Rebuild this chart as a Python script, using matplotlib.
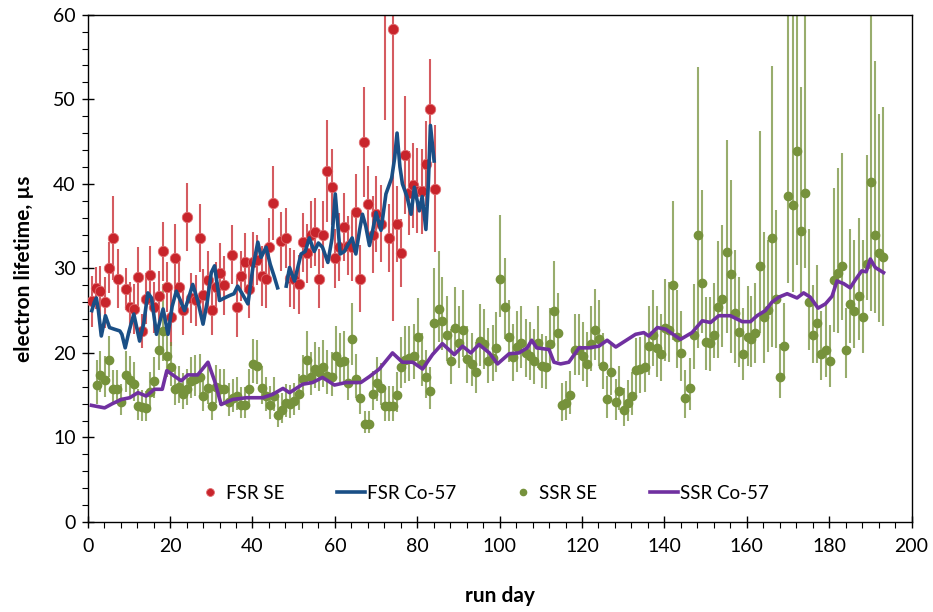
import numpy as np
import matplotlib
matplotlib.use("Agg")
import matplotlib.pyplot as plt
from matplotlib.ticker import MultipleLocator

plt.rcParams['font.family'] = ['Lato', 'DejaVu Sans']

# FSR SE (red points), symmetric errors
fsr_day = [1.1, 2.1, 3.1, 4.2, 5.2, 6.1, 7.3, 9.2, 10.2, 11.2, 12.2, 13.2, 14.2, 15.2, 16.2, 17.2,
           18.2, 19.2, 20.2, 21.2, 22.2, 23.2, 24.1, 25.1, 26.2, 27.2, 28.1, 29.2, 30.2, 31.2, 32.2,
           33.1, 35.1, 36.2, 37.2, 38.1, 39.1, 40.1, 41.0, 42.2, 43.2, 44.1, 45.1, 47.0, 48.2, 49.1,
           50.1, 51.2, 52.2, 53.2, 54.2, 55.1, 56.1, 57.2, 58.2, 59.2, 60.1, 61.1, 62.2, 63.2, 64.2,
           65.1, 66.1, 67.1, 68.0, 69.2, 70.1, 71.1, 72.2, 73.2, 74.2, 75.2, 76.1, 77.1, 78.1, 79.0,
           80.0, 81.1, 82.1, 83.1, 84.2]
fsr_val = [26.1, 27.7, 27.3, 26.0, 30.1, 33.6, 28.8, 27.6, 25.4, 25.2, 29.0, 22.6, 26.4, 29.2, 25.4, 26.7,
           32.0, 27.8, 24.3, 31.2, 27.8, 25.1, 36.1, 26.5, 26.2, 33.6, 26.9, 28.6, 25.1, 27.8, 29.5,
           28.0, 31.6, 25.4, 29.1, 30.7, 27.6, 30.8, 31.0, 29.1, 28.8, 32.5, 37.7, 33.2, 33.6, 28.9,
           28.7, 28.1, 33.1, 31.8, 34.0, 34.3, 28.8, 34.0, 41.5, 39.6, 31.2, 32.5, 34.9, 32.7, 32.5,
           36.7, 28.8, 44.9, 37.6, 34.0, 36.4, 35.3, 62.0, 33.6, 58.3, 35.2, 31.8, 43.4, 38.9, 39.8,
           39.2, 39.1, 42.4, 48.8, 39.4]
fsr_err = [3.0, 2.5, 3.0, 3.0, 3.0, 5.0, 3.5, 2.5, 3.0, 3.0, 3.5, 2.0, 3.0, 3.5, 3.0, 3.0,
           3.5, 3.0, 3.5, 4.0, 3.0, 3.0, 4.0, 3.0, 3.0, 4.0, 3.0, 3.5, 3.0, 3.0, 3.5,
           3.5, 3.5, 3.5, 3.0, 3.5, 3.5, 3.5, 3.0, 3.5, 3.5, 3.5, 4.4, 3.5, 3.5, 3.5,
           3.5, 3.5, 3.5, 3.5, 4.0, 4.0, 3.5, 4.0, 6.0, 4.5, 3.5, 4.0, 4.0, 3.5, 4.0,
           4.5, 4.0, 6.5, 4.5, 4.5, 4.5, 4.5, 14.4, 4.0, 34.5, 4.5, 4.0, 7.0, 5.0, 5.0,
           5.0, 5.0, 5.0, 6.0, 7.5]

# FSR Co-57 (blue line), nan = gap
fco_day = [1.0, 1.6, 2.1, 2.6, 3.3, 4.3, 5.3, 6.5, 7.8, 8.3, 9.1, 10.0, 11.2, 12.6, 13.6, 14.6, 15.5,
           16.7, 18.3, 19.5, 20.5, 21.5, 22.5, 23.5, 24.5, 25.5, 26.7, 28.0, 29.0, 30.0, 30.8, 32.0,
           33.2, 34.5, 35.5, 36.4, 37.5, 38.9, 40.1, 41.3, 42.1, 43.3, 44.3, 45.3, 46.1, 47.0,
           48.2, 49.0, 50.2, 51.8, 52.8, 53.8, 55.0, 56.0, 57.0, 58.3, 59.3, 60.1, 61.3, 62.3, 63.2,
           64.2, 65.1, 66.0, 66.7, 67.5, 68.4, 69.2, 70.0, 71.2, 72.4, 73.8, 74.5, 75.1, 75.8, 76.4,
           77.5, 78.5, 79.3, 80.5, 81.2, 82.1, 82.7, 83.2, 84.1]
fco_val = [25.0, 26.0, 26.5, 25.0, 22.0, 24.4, 23.0, 22.8, 22.6, 22.2, 20.6, 22.5, 24.6, 21.4, 23.5, 27.1, 26.5,
           22.2, 25.2, 22.2, 25.5, 27.3, 26.2, 25.0, 26.5, 28.1, 26.2, 23.4, 26.0, 29.5, 30.3, 26.2,
           26.5, 26.8, 27.0, 27.9, 27.0, 25.8, 30.1, 33.1, 31.3, 32.5, 30.5, 29.0, 27.7, np.nan,
           27.9, 30.1, 28.5, 31.7, 32.0, 33.6, 32.0, 33.0, 32.5, 30.7, 33.5, 38.8, 31.7, 32.0, 32.8,
           33.6, 31.7, 34.5, 36.4, 35.0, 32.7, 34.5, 36.6, 34.5, 38.8, 40.7, 43.0, 46.0, 42.0, 40.0,
           38.5, 36.4, 39.6, 36.8, 38.5, 34.6, 40.0, 46.9, 42.7]

# SSR SE (green points), asymmetric errors
ssr_day = [2.3, 3.1, 4.1, 5.2, 6.1, 7.1, 8.2, 9.2, 10.2, 11.2, 12.2, 13.3, 14.2, 15.2, 16.2, 17.2,
           18.3, 19.2, 20.2, 21.3, 22.2, 23.2, 24.2, 25.1, 26.1, 27.2, 28.1, 29.1, 30.2, 31.2, 32.2,
           33.2, 34.3, 35.2, 36.2, 37.2, 38.1, 39.1, 40.1, 41.2, 42.2, 43.2, 44.3, 45.3, 46.2, 47.2,
           48.2, 49.2, 50.2, 51.2, 52.2, 53.2, 54.2, 55.3, 56.2, 57.2, 58.2, 59.2, 60.3, 61.3, 62.2,
           63.2, 64.2, 65.1, 66.2, 67.2, 68.2, 69.2, 70.2, 71.2, 72.2, 73.2, 74.2, 75.2, 76.1, 77.1,
           78.1, 79.1, 80.2, 81.1, 82.1, 83.2, 84.1, 85.2, 86.1, 87.2, 88.2, 89.1, 90.2, 91.2, 92.2,
           93.3, 94.2, 95.2, 96.2, 97.2, 98.3, 99.2, 100.1, 101.3, 102.2, 103.3, 104.3, 105.3, 106.3, 107.3,
           108.4, 109.3, 110.3, 111.2, 112.2, 113.2, 114.2, 115.2, 116.2, 117.2, 118.2, 119.3, 120.2, 121.3, 122.3,
           123.2, 124.1, 125.1, 126.1, 127.1, 128.2, 129.1, 130.2, 131.2, 132.2, 133.2, 134.2, 135.2, 136.2, 137.2,
           138.3, 139.2, 140.2, 141.2, 142.1, 143.1, 144.1, 145.1, 146.1, 147.2, 148.1, 149.1, 150.1, 151.0, 152.1,
           153.0, 154.0, 155.2, 156.1, 157.1, 158.1, 159.0, 160.2, 161.1, 162.1, 163.1, 164.1, 165.1, 166.1, 167.1,
           168.1, 169.1, 170.1, 171.2, 172.1, 173.1, 174.1, 175.1, 176.1, 177.1, 178.1, 179.2, 180.1, 181.1, 182.1,
           183.1, 184.1, 185.1, 186.1, 187.2, 188.1, 189.1, 190.1, 191.1, 192.1, 193.1]
ssr_val = [16.2, 17.4, 16.8, 19.2, 15.7, 15.7, 14.2, 17.4, 16.8, 16.3, 13.7, 13.6, 13.5, 15.4, 16.7, 20.4,
           22.6, 19.6, 18.3, 15.7, 16.0, 15.2, 15.7, 16.7, 16.9, 17.1, 14.9, 15.9, 13.7, 16.0, 15.7,
           15.7, 14.2, 14.7, 14.9, 13.9, 13.9, 15.7, 18.7, 18.5, 15.9, 14.9, 13.9, 14.9, 12.7, 13.3,
           14.1, 14.0, 14.3, 15.1, 16.9, 19.2, 17.1, 18.1, 17.7, 18.3, 17.3, 17.1, 19.6, 18.9, 19.1,
           16.5, 21.6, 16.9, 14.7, 11.6, 11.6, 15.2, 16.5, 15.9, 13.7, 13.7, 13.7, 15.0, 18.3, 19.2,
           19.4, 19.6, 21.9, 18.7, 17.1, 15.5, 23.5, 25.2, 23.8, 22.1, 19.0, 23.0, 21.2, 22.7, 19.3,
           18.7, 17.8, 21.4, 21.0, 19.1, 19.4, 20.6, 28.8, 25.4, 21.9, 19.5, 20.7, 21.2, 20.0, 19.6,
           19.0, 21.2, 18.5, 18.3, 21.0, 24.9, 22.3, 13.9, 14.1, 15.0, 20.4, 20.4, 19.6, 18.7, 21.1,
           22.7, 21.7, 18.5, 14.5, 17.7, 14.2, 15.5, 13.3, 14.1, 14.9, 18.0, 18.1, 18.3, 20.8, 22.1,
           20.6, 19.9, 22.9, 22.7, 28.0, 21.9, 20.0, 14.7, 15.8, 22.1, 34.0, 28.3, 21.3, 21.2, 22.1,
           25.4, 26.4, 31.9, 29.3, 24.7, 22.5, 19.9, 21.9, 21.7, 22.3, 30.3, 24.3, 25.1, 33.6, 26.4,
           17.2, 20.8, 38.6, 37.5, 43.9, 34.4, 38.9, 26.0, 22.1, 23.5, 19.9, 20.3, 19.0, 28.6, 29.5,
           30.3, 20.4, 25.8, 24.9, 26.7, 24.3, 30.5, 40.2, 34.0, 31.8, 31.4]
ssr_lo = [2.2, 2.0, 2.0, 2.0, 1.7, 1.7, 1.6, 2.0, 2.0, 2.0, 1.6, 1.6, 1.6, 1.8, 2.0, 2.4,
          3.5, 2.4, 2.2, 1.8, 1.9, 1.8, 1.8, 2.0, 2.0, 2.0, 1.8, 1.9, 1.6, 1.9, 1.8,
          1.8, 1.7, 1.7, 1.7, 1.6, 1.6, 1.8, 2.2, 2.2, 1.9, 1.8, 1.7, 1.8, 1.5, 1.6,
          1.7, 1.7, 1.7, 1.8, 2.0, 2.4, 2.1, 2.3, 2.2, 2.3, 2.2, 2.2, 2.6, 2.4, 2.5,
          2.1, 3.0, 2.2, 1.9, 1.1, 1.1, 2.0, 2.2, 2.1, 1.8, 1.8, 1.8, 2.0, 2.5, 2.8,
          2.7, 2.7, 3.2, 2.6, 2.4, 2.1, 3.6, 3.9, 3.4, 3.1, 2.7, 3.3, 3.0, 3.2, 2.8,
          2.6, 2.5, 3.0, 2.9, 2.7, 2.7, 2.9, 4.6, 3.8, 3.0, 2.8, 2.9, 3.0, 2.8, 2.8,
          2.7, 3.0, 2.6, 2.6, 3.0, 3.9, 3.3, 2.0, 2.0, 2.2, 3.0, 3.0, 2.9, 2.7, 3.2,
          3.5, 3.3, 2.8, 2.2, 2.7, 2.1, 2.3, 2.0, 2.1, 2.2, 2.8, 2.8, 2.9, 3.4, 3.6,
          3.4, 3.2, 3.8, 3.8, 6.5, 3.7, 3.3, 2.4, 2.6, 4.0, 13.4, 6.0, 3.3, 3.3, 2.7,
          6.0, 5.7, 9.6, 9.3, 5.9, 4.2, 3.1, 3.5, 3.4, 3.5, 8.0, 5.5, 5.0, 12.9, 5.8,
          2.5, 3.8, 10.3, 10.3, 13.5, 7.4, 8.8, 5.6, 3.3, 4.7, 3.1, 3.1, 3.0, 6.1, 7.1,
          6.4, 3.4, 4.6, 4.3, 5.2, 4.3, 4.2, 15.3, 9.3, 8.1, 8.2]
ssr_hi = [3.0, 2.8, 2.8, 2.8, 2.3, 2.3, 2.1, 2.8, 2.8, 2.6, 2.0, 2.0, 2.0, 2.4, 2.8, 3.2,
          5.5, 3.2, 3.0, 2.4, 2.5, 2.4, 2.4, 2.8, 2.8, 2.8, 2.3, 2.6, 2.0, 2.6, 2.4,
          2.4, 2.2, 2.2, 2.3, 2.1, 2.1, 2.4, 3.0, 3.0, 2.5, 2.3, 2.2, 2.3, 1.9, 2.0,
          2.2, 2.2, 2.2, 2.4, 2.8, 3.4, 3.0, 3.2, 3.0, 3.2, 3.0, 3.0, 3.6, 3.4, 3.5,
          2.9, 4.3, 3.0, 2.5, 1.5, 1.5, 2.7, 3.0, 2.9, 2.4, 2.4, 2.4, 2.8, 3.6, 4.0,
          3.8, 3.8, 4.6, 3.6, 3.3, 2.8, 6.5, 6.8, 5.2, 4.6, 3.8, 4.8, 4.3, 4.7, 3.9,
          3.7, 3.5, 4.4, 4.2, 3.8, 3.9, 4.2, 7.5, 5.8, 4.4, 3.9, 4.2, 4.4, 4.0, 4.0,
          3.8, 4.4, 3.7, 3.7, 4.3, 6.0, 4.8, 2.6, 2.6, 2.9, 4.2, 4.2, 4.0, 3.8, 4.4,
          4.9, 4.6, 3.8, 2.8, 3.6, 2.7, 3.0, 2.5, 2.7, 2.9, 3.8, 3.8, 4.0, 4.8, 5.3,
          5.0, 4.7, 5.8, 5.7, 10.0, 5.5, 5.0, 3.3, 3.6, 6.0, 19.8, 11.0, 5.3, 5.4, 6.2,
          7.8, 8.7, 13.3, 11.2, 7.5, 6.5, 5.4, 6.0, 5.0, 6.0, 16.0, 10.0, 8.3, 20.3, 10.5,
          3.8, 5.1, 30.0, 30.0, 30.0, 17.1, 30.0, 8.6, 5.9, 6.9, 5.0, 5.6, 4.3, 10.9, 12.4,
          13.4, 4.9, 8.8, 8.5, 9.3, 9.1, 12.9, 30.0, 20.5, 16.5, 17.7]

# SSR Co-57 (purple line)
sco_day = [0.9, 4.1, 6.0, 8.2, 10.2, 12.2, 14.2, 16.2, 18.1, 19.2, 21.5, 22.7, 24.3, 26.7, 29.2, 30.8,
           32.4, 35.2, 38.5, 42.5, 44.9, 47.4, 49.0, 52.2, 54.6, 57.0, 59.9, 62.7, 66.3, 68.4, 70.8,
           74.0, 76.4, 78.9, 81.3, 83.7, 86.1, 89.0, 91.0, 93.0, 95.0, 97.5, 99.5, 102.3, 104.7, 106.7,
           107.8, 109.0, 112.0, 113.2, 114.8, 116.8, 119.3, 121.7, 124.1, 126.1, 128.2, 129.8, 133.0, 135.0,
           136.2, 138.3, 140.3, 143.9, 146.7, 149.2, 151.2, 153.2, 156.0, 158.9, 160.9, 162.5, 164.5, 166.1,
           167.8, 169.8, 172.2, 173.8, 175.4, 177.3, 179.1, 180.7, 181.9, 183.5, 185.1, 186.3, 187.9, 189.0,
           190.0, 191.2, 193.2]
sco_val = [13.8, 13.5, 14.0, 14.5, 14.7, 15.3, 14.9, 15.7, 15.7, 17.9, 17.1, 16.7, 17.4, 17.4, 18.9, 16.7,
           13.9, 14.5, 14.7, 14.7, 15.1, 15.8, 15.3, 16.3, 16.5, 17.1, 16.2, 16.5, 16.5, 17.2, 18.1,
           20.0, 18.9, 18.9, 18.1, 19.8, 21.1, 19.8, 20.8, 20.0, 21.0, 20.0, 18.7, 19.9, 20.0, 20.6,
           21.5, 20.6, 20.4, 18.9, 18.7, 18.9, 20.6, 20.6, 20.8, 21.5, 20.7, 21.2, 22.2, 22.4,
           22.0, 23.0, 22.8, 21.6, 22.4, 23.8, 23.6, 24.4, 24.4, 23.7, 23.7, 24.4, 25.0, 26.0,
           26.6, 27.0, 26.5, 27.1, 26.6, 25.3, 25.8, 26.7, 28.5, 28.2, 27.7, 28.6, 29.7, 29.6,
           31.1, 30.1, 29.5]

x_ticks = list(range(0, 201, 20))
y_ticks = list(range(0, 61, 10))

RED = '#C8242B'
BLUE = '#1A4F86'
GREEN = '#76923C'
PURPLE = '#7030A0'

fig = plt.figure(figsize=(9.33, 6.12), dpi=100)
ax = fig.add_axes([0.094, 0.147, 0.883, 0.829])

ax.errorbar(fsr_day, fsr_val, yerr=fsr_err, fmt='none', ecolor=RED, elinewidth=1.5, alpha=0.75, zorder=2)
ax.plot(fsr_day, fsr_val, 'o', color=RED, ms=7.5, mec='#E06A6E', mew=0.6, zorder=3, label='FSR SE')
ax.plot(fco_day, fco_val, '-', color=BLUE, lw=2.6, solid_joinstyle='round', zorder=4, label='FSR Co-57')
ax.errorbar(ssr_day, ssr_val, yerr=[ssr_lo, ssr_hi], fmt='none', ecolor=GREEN, elinewidth=1.5, alpha=0.75, zorder=2)
ax.plot(ssr_day, ssr_val, 'o', color=GREEN, ms=6, mec=GREEN, zorder=3, label='SSR SE')
ax.plot(sco_day, sco_val, '-', color=PURPLE, lw=2.6, solid_joinstyle='round', zorder=4, label='SSR Co-57')

ax.set_xlim(0, 200)
ax.set_ylim(0, 60)
ax.set_xticks(x_ticks)
ax.set_yticks(y_ticks)
ax.xaxis.set_minor_locator(MultipleLocator(4))
ax.yaxis.set_minor_locator(MultipleLocator(2))
ax.tick_params(which='major', direction='inout', length=9, width=1, labelsize=14)
ax.tick_params(which='minor', direction='out', length=4, width=0.8)
ax.tick_params(axis='x', which='major', pad=7)
ax.tick_params(axis='y', which='major', pad=4)
for s in ax.spines.values():
    s.set_linewidth(1)

ax.set_xlabel('run day', fontsize=15, fontweight='bold', labelpad=22)
ax.set_ylabel('electron lifetime, µs', fontsize=15, fontweight='bold', labelpad=14)

leg = ax.legend(loc='center', bbox_to_anchor=(0.479, 0.057), ncol=4, frameon=False, fontsize=13.5,
                handlelength=1.5, columnspacing=2.8, handletextpad=0.1, markerscale=0.75)

fig.savefig('out.png', dpi=100)
